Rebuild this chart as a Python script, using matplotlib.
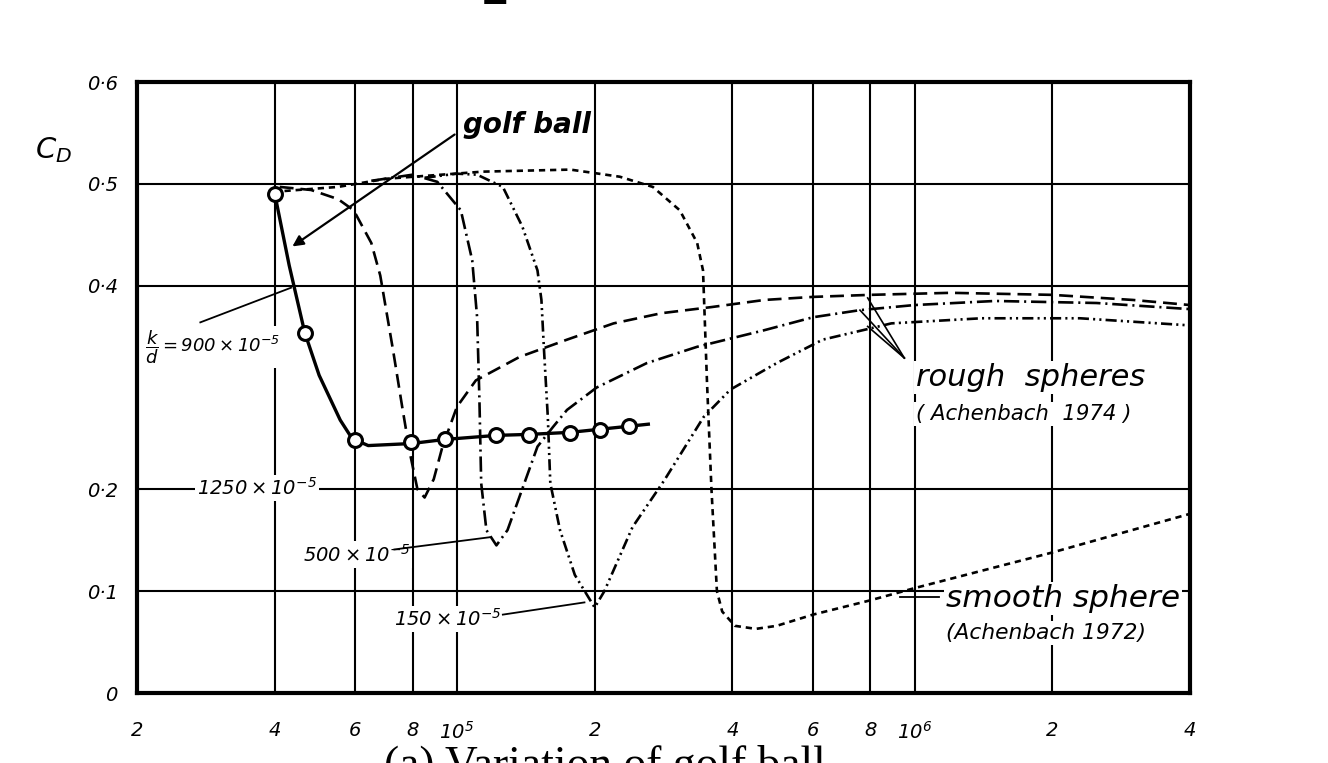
import numpy as np
import matplotlib
matplotlib.use("Agg")
import matplotlib.pyplot as plt
from matplotlib.ticker import NullLocator

plt.rcParams['font.family'] = ['DejaVu Sans']
plt.rcParams['mathtext.fontset'] = 'custom'
plt.rcParams['mathtext.rm'] = 'DejaVu Sans:italic'
plt.rcParams['mathtext.it'] = 'DejaVu Sans:italic'
plt.rcParams['mathtext.sf'] = 'DejaVu Sans:italic'
plt.rcParams['lines.scale_dashes'] = False

# golf ball measurements (circles) and the drawn curve through them
golf_re = [4.0e4, 4.65e4, 6.0e4, 7.95e4, 9.4e4, 1.22e5, 1.44e5, 1.77e5, 2.05e5, 2.38e5]
golf_cd = [0.49, 0.354, 0.248, 0.247, 0.249, 0.253, 0.253, 0.255, 0.258, 0.262]
golf_line_re = [4.0e4, 4.3e4, 4.65e4, 5.0e4, 5.56e4, 5.9e4, 6.4e4, 7.95e4, 9.4e4,
                1.22e5, 1.44e5, 1.77e5, 2.05e5, 2.38e5, 2.62e5]
golf_line_cd = [0.49, 0.42, 0.354, 0.312, 0.268, 0.25, 0.243, 0.245, 0.249,
                0.253, 0.254, 0.256, 0.259, 0.262, 0.264]

# rough spheres, k/d = 1250e-5 (long dashes)
re_1250 = [4.1e4, 4.8e4, 5.5e4, 5.95e4, 6.5e4, 6.8e4, 7.25e4, 7.6e4, 7.9e4, 8.2e4, 8.5e4,
           8.9e4, 9.3e4, 1.0e5, 1.1e5, 1.37e5, 1.74e5, 2.2e5, 2.8e5, 3.6e5, 4.7e5, 6.0e5,
           8.0e5, 1.2e6, 2.0e6, 3.0e6, 4.0e6]
cd_1250 = [0.497, 0.494, 0.485, 0.474, 0.442, 0.41, 0.337, 0.28, 0.235, 0.2, 0.192,
           0.21, 0.242, 0.281, 0.307, 0.33, 0.347, 0.363, 0.373, 0.379, 0.386, 0.389,
           0.391, 0.393, 0.391, 0.386, 0.381]

# rough spheres, k/d = 500e-5 (dash-dot)
re_500 = [6.5e4, 8.0e4, 9.06e4, 1.02e5, 1.08e5, 1.107e5, 1.12e5, 1.13e5, 1.16e5, 1.22e5,
          1.29e5, 1.5e5, 1.62e5, 1.74e5, 2.02e5, 2.6e5, 3.35e5, 4.67e5, 6.0e5, 7.6e5,
          1.0e6, 1.5e6, 2.5e6, 4.0e6]
cd_500 = [0.503, 0.509, 0.502, 0.474, 0.425, 0.369, 0.288, 0.206, 0.16, 0.145,
          0.16, 0.242, 0.261, 0.278, 0.30, 0.324, 0.34, 0.356, 0.369, 0.376,
          0.381, 0.385, 0.383, 0.377]

# rough spheres, k/d = 150e-5 (dash-dot-dot)
re_150 = [8.5e4, 1.0e5, 1.107e5, 1.26e5, 1.39e5, 1.5e5, 1.53e5, 1.55e5, 1.58e5, 1.6e5,
          1.68e5, 1.81e5, 2.0e5, 2.1e5, 2.42e5, 2.84e5, 3.46e5, 3.96e5, 5.0e5, 6.3e5,
          8.0e5, 8.9e5, 1.4e6, 2.3e6, 4.0e6]
cd_150 = [0.506, 0.51, 0.509, 0.497, 0.458, 0.415, 0.386, 0.337, 0.271, 0.206,
          0.16, 0.116, 0.084, 0.10, 0.163, 0.209, 0.271, 0.298, 0.324, 0.347,
          0.358, 0.363, 0.368, 0.368, 0.361]

# smooth sphere (short dashes)
re_smooth = [4.2e4, 5.5e4, 7.0e4, 1.14e5, 1.77e5, 2.27e5, 2.68e5, 3.07e5, 3.35e5, 3.45e5,
             3.52e5, 3.6e5, 3.7e5, 3.8e5, 4.05e5, 4.5e5, 5.0e5, 6.0e5, 8.0e5, 1.0e6,
             2.0e6, 4.0e6]
cd_smooth = [0.493, 0.497, 0.505, 0.512, 0.514, 0.507, 0.497, 0.474, 0.442, 0.415,
             0.305, 0.2, 0.1, 0.08, 0.066, 0.063, 0.066, 0.077, 0.091, 0.103,
             0.138, 0.176]

x_ticks = [2e4, 4e4, 6e4, 8e4, 1e5, 2e5, 4e5, 6e5, 8e5, 1e6, 2e6, 4e6]
x_labels = ['2', '4', '6', '8', r'$10^{5}$', '2', '4', '6', '8',
            r'$10^{6}$', '2', '4']
y_ticks = [0, 0.1, 0.2, 0.4, 0.5, 0.6]
y_labels = ['0', '0·1', '0·2', '0·4', '0·5', '0·6']

fig = plt.figure(figsize=(13.28, 7.63), dpi=100)
ax = fig.add_axes([0.1032, 0.0917, 0.7929, 0.8008])

ax.set_xscale('log')
ax.set_xlim(2e4, 4e6)
ax.set_ylim(0, 0.6)
ax.set_xticks(x_ticks)
ax.set_xticklabels(x_labels, fontsize=14, fontstyle='italic')
ax.xaxis.set_minor_locator(NullLocator())
ax.set_yticks(y_ticks)
ax.set_yticklabels(y_labels, fontsize=14, fontstyle='italic')
ax.tick_params(length=0)
ax.tick_params(axis='x', pad=20)
ax.tick_params(axis='y', pad=14)
ax.grid(True, color='black', lw=1.5, zorder=1)
ax.set_axisbelow(True)
for s in ax.spines.values():
    s.set_linewidth(3)

lw = 1.9
ax.plot(golf_line_re, golf_line_cd, color='black', lw=2.4, zorder=4)
ax.plot(golf_re, golf_cd, 'o', color='black', mfc='white', ms=10, mew=2.2, zorder=5)
ax.plot(re_1250, cd_1250, color='black', lw=lw, ls=(0, (10, 5)), zorder=3)
ax.plot(re_500, cd_500, color='black', lw=lw, ls=(0, (11, 3.5, 1.5, 3.5)), zorder=3)
ax.plot(re_150, cd_150, color='black', lw=lw, ls=(0, (8, 3, 1.5, 3, 1.5, 3)), zorder=3)
ax.plot(re_smooth, cd_smooth, color='black', lw=lw, ls=(0, (4.5, 3.5)), zorder=3)

box = dict(facecolor='white', edgecolor='none', pad=1.5)
txt = dict(fontstyle='italic', color='black', zorder=2.5, bbox=box)

# golf ball label with arrow
ax.text(1.03e5, 0.55, 'golf ball', fontsize=20, fontweight='bold', va='baseline', **txt)
ax.annotate('', xy=(4.32e4, 0.437), xytext=(1.0e5, 0.55),
            arrowprops=dict(arrowstyle='-|>', color='black', lw=1.6,
                            mutation_scale=16), zorder=4)

# roughness labels and leaders
ax.text(2.08e4, 0.34, r'$\dfrac{k}{d}$' + r'$ = 900\times10^{-5}$',
        fontsize=13, va='center', **txt)
ax.plot([2.75e4, 4.34e4], [0.364, 0.398], color='black', lw=1.3, zorder=3)

ax.text(2.7e4, 0.201, r'$1250\times10^{-5}$', fontsize=14, va='center', **txt)
ax.text(4.6e4, 0.136, r'$500\times10^{-5}$', fontsize=14, va='center', **txt)
ax.plot([7.3e4, 1.18e5], [0.141, 0.153], color='black', lw=1.3, zorder=3)
ax.text(7.3e4, 0.073, r'$150\times10^{-5}$', fontsize=14, va='center', **txt)
ax.plot([1.26e5, 1.9e5], [0.077, 0.089], color='black', lw=1.3, zorder=3)

# rough spheres pointer
for px, py in [(7.9e5, 0.388), (7.6e5, 0.376), (7.9e5, 0.36)]:
    ax.plot([px, 9.5e5], [py, 0.329], color='black', lw=1.2, zorder=3)
ax.text(1.01e6, 0.31, 'rough  spheres', fontsize=22, va='center', **txt)
ax.text(1.01e6, 0.274, '( Achenbach  1974 )', fontsize=15.3, va='center', **txt)

# smooth sphere label
ax.plot([9.3e5, 1.13e6], [0.094, 0.094], color='black', lw=1.3, zorder=3)
ax.text(1.17e6, 0.093, 'smooth sphere', fontsize=22.5, va='center', **txt)
ax.text(1.17e6, 0.059, '(Achenbach 1972)', fontsize=15.7, va='center', **txt)

# axis title and page remnants
fig.text(0.026, 0.803, r'$C_D$', fontsize=21, ha='left', va='center')
fig.text(0.289, -0.02, '(a) Variation of golf ball', fontsize=32.8,
         family='Liberation Serif', va='baseline')
fig.text(0.362, 0.9948, '2', fontsize=30, fontweight='bold', va='baseline')

fig.savefig('out.png', dpi=100)
